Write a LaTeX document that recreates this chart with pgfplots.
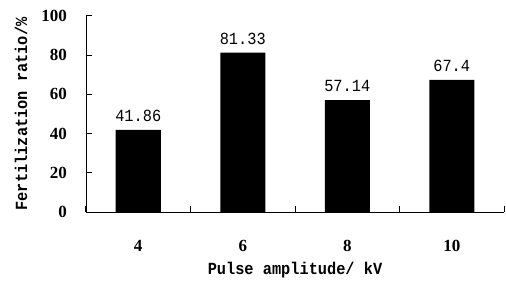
\documentclass[border=0pt]{standalone}
\usepackage{fontspec}
\setmainfont{Liberation Serif}
\newfontfamily\simfont{Liberation Mono}[FakeStretch=0.9]
\usepackage{pgfplots}
\pgfplotsset{compat=1.18}
\begin{document}
\begin{tikzpicture}
\begin{axis}[
  scale only axis, width=418pt, height=196pt,
  xmin=0.5, xmax=4.5, ymin=0, ymax=100,
  axis x line=bottom, axis y line=left,
  axis line style={-, line width=0.9pt},
  major tick length=6pt,
  major tick style={line width=1pt, black},
  major x tick style={yshift=3pt},
  major y tick style={xshift=3pt},
  xtick={0.5,1.5,2.5,3.5,4.5}, xticklabels={4,6,8,10},
  x tick label as interval,
  ytick={0,20,40,60,80,100},
  /pgf/number format/assume math mode=true,
  ticklabel style={font=\fontsize{17}{17}\selectfont\bfseries},
  xticklabel style={anchor=center, yshift=-31pt, inner sep=0pt},
  yticklabel style={anchor=east, xshift=-16pt, inner sep=0pt},
  xlabel={Pulse amplitude/ kV},
  ylabel={Fertilization ratio/\%},
  every axis x label/.style={at={(axis description cs:0.5,-0.296)}, anchor=center, font=\fontsize{17}{17}\simfont\bfseries},
  every axis y label/.style={at={(axis description cs:-0.1555,0.5)}, rotate=90, anchor=center, font=\fontsize{17}{17}\simfont\bfseries},
]
\addplot[ybar, bar width=45pt, fill=black, draw=none,
  point meta=explicit symbolic, nodes near coords,
  every node near coord/.append style={font=\fontsize{17}{17}\simfont, anchor=center, yshift=14pt}]
  coordinates {(1,41.86)[41.86] (2,81.33)[81.33] (3,57.14)[57.14] (4,67.4)[67.4]};
\end{axis}
\pgfresetboundingbox
\path (-86pt,-69pt) rectangle (420pt,212pt);
\end{tikzpicture}
\end{document}
